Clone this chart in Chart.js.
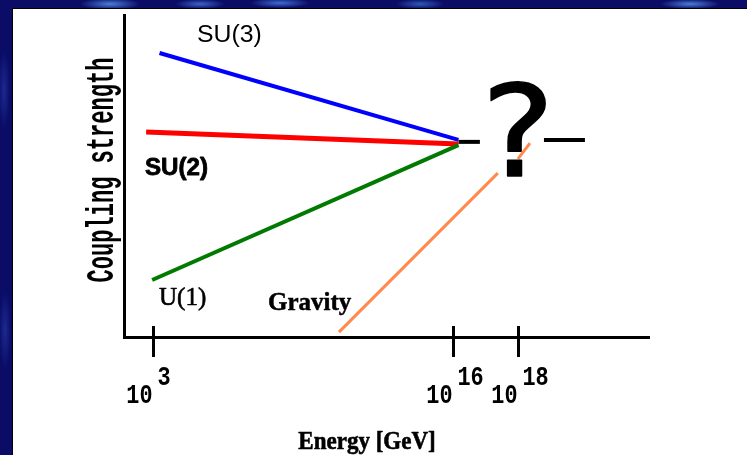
<!DOCTYPE html>
<html>
<head>
<meta charset="utf-8">
<script src="https://cdn.jsdelivr.net/npm/chart.js@4.4.1/dist/chart.umd.min.js"></script>
<style>
  html, body { margin: 0; padding: 0; }
  body {
    width: 747px; height: 455px; overflow: hidden; position: relative;
    background:
      radial-gradient(ellipse 30px 6px at 110px 4px, #4a7fd8, transparent),
      radial-gradient(ellipse 25px 5px at 200px 4px, #3a66c4, transparent),
      radial-gradient(ellipse 30px 5px at 280px 3px, #3d6fd0, transparent),
      radial-gradient(ellipse 25px 5px at 420px 4px, #2f5ab8, transparent),
      radial-gradient(ellipse 30px 5px at 690px 4px, #4a7fd8, transparent),
      radial-gradient(ellipse 6px 40px at 4px 90px, #1c2a90, transparent),
      radial-gradient(ellipse 6px 40px at 5px 330px, #1c2a90, transparent),
      #0a0c66;
  }
  .panel {
    position: absolute; left: 12px; top: 8px; right: 0; bottom: 0;
    background: #fff; border-top: 1px solid #000; border-left: 1px solid #000;
  }
  canvas { position: absolute; left: 0; top: 0; }
</style>
</head>
<body>
<div class="panel"></div>
<canvas id="chart" width="747" height="455"></canvas>
<script>
// --- data: x = log10(E / GeV), y = coupling strength (arbitrary units) ---
const energyTicks = [3, 16, 18];

const su3Energy = [3.28, 16.17];
const su3Coupling = [88.2, 61.2];

const su2Energy = [2.70, 16.17];
const su2Coupling = [63.7, 59.9];

const u1Energy = [2.96, 16.17];
const u1Coupling = [17.7, 59.6];

// gravity is broken where the question mark's dot sits
const gravityEnergy = [11.06, 17.38, 17.7, 18.0, 18.37];
const gravityCoupling = [1.5, 50.9, null, 55.3, 60.2];

const beyondEnergy = [16.17, 16.83];
const beyondCoupling = [60.6, 60.6];

const unknownEnergy = [18.8, 20.06];
const unknownCoupling = [61.2, 61.2];

const pts = (xs, ys) => xs.map((x, i) => ({ x: x, y: ys[i] }));

// energy axis is schematic: the decades above 10^16 are drawn wider
const KNEE = 16, STRETCH = 1.41;
class BentScale extends Chart.LinearScale {
    warp(v) { return v <= KNEE ? v : KNEE + (v - KNEE) * STRETCH; }
    unwarp(w) { return w <= KNEE ? w : KNEE + (w - KNEE) / STRETCH; }
    getPixelForValue(value) {
        const a = this.warp(this.min), b = this.warp(this.max);
        return this.getPixelForDecimal((this.warp(value) - a) / (b - a));
    }
    getValueForPixel(pixel) {
        const a = this.warp(this.min), b = this.warp(this.max);
        return this.unwarp(a + this.getDecimalForPixel(pixel) * (b - a));
    }
}
BentScale.id = 'bent';
BentScale.defaults = Chart.LinearScale.defaults;
Chart.register(BentScale);

function label(ctx, str, x, y, font, align, sx, stroke) {
    ctx.save();
    ctx.translate(x, y);
    ctx.scale(sx || 1, 1);
    ctx.font = font;
    ctx.textAlign = align || 'left';
    ctx.textBaseline = 'alphabetic';
    ctx.fillStyle = '#000';
    ctx.fillText(str, 0, 0);
    if (stroke) {
        ctx.strokeStyle = '#000';
        ctx.lineWidth = stroke;
        ctx.lineJoin = 'round';
        ctx.strokeText(str, 0, 0);
    }
    ctx.restore();
}

const decorations = {
    id: 'decorations',
    afterDraw(chart) {
        const ctx = chart.ctx;
        const xs = chart.scales.x;
        const bottom = chart.chartArea.bottom;

        // tick marks crossing the energy axis, with 10^n labels
        ctx.save();
        ctx.strokeStyle = '#000';
        ctx.lineWidth = 3;
        xs.ticks.forEach(t => {
            const px = Math.round(xs.getPixelForValue(t.value)) + 0.5;
            ctx.beginPath();
            ctx.moveTo(px, bottom - 11);
            ctx.lineTo(px, bottom + 20);
            ctx.stroke();
            label(ctx, '10', px - 1, 403, 'bold 28px "Liberation Mono"', 'right', 0.78);
            label(ctx, String(t.value), px + 4, 385, 'bold 28px "Liberation Mono"', 'left', 0.78);
        });
        ctx.restore();

        // axis titles
        label(ctx, 'Energy [GeV]', 367, 449, 'bold 25px "Liberation Serif"', 'center', 0.92, 0.6);
        ctx.save();
        ctx.translate(113, 170);
        ctx.rotate(-Math.PI / 2);
        label(ctx, 'Coupling strength', 0, 0, 'bold 38px "Liberation Mono"', 'center', 0.58);
        ctx.restore();

        // curve names
        label(ctx, 'SU(3)', 197, 42, '23px "Liberation Sans"', 'left', 1.08);
        label(ctx, 'SU(2)', 145, 175, 'bold 23px "Liberation Sans"', 'left', 1.05, 0.8);
        label(ctx, 'U(1)', 159, 305, '25px "Liberation Serif"', 'left', 1.0, 0.6);
        label(ctx, 'Gravity', 268, 310, 'bold 25px "Liberation Serif"', 'left', 1.0, 0.5);

        // the open question beyond unification
        label(ctx, '?', 518, 176, '126px "DejaVu Sans"', 'center', 1.1, 1.5);
    }
};

const line = (data, color, width) => ({
    data: data,
    showLine: true,
    borderColor: color,
    borderWidth: width,
    pointRadius: 0,
    tension: 0,
    borderCapStyle: 'butt',
    spanGaps: false
});

new Chart(document.getElementById('chart'), {
    type: 'scatter',
    data: {
        datasets: [
            line(pts(gravityEnergy, gravityCoupling), '#ff8a4c', 3),
            line(pts(u1Energy, u1Coupling), '#007a00', 4),
            line(pts(su2Energy, su2Coupling), '#ff0000', 5),
            line(pts(su3Energy, su3Coupling), '#0000ff', 4),
            line(pts(beyondEnergy, beyondCoupling), '#000000', 4),
            line(pts(unknownEnergy, unknownCoupling), '#000000', 4)
        ]
    },
    options: {
        responsive: false,
        animation: false,
        devicePixelRatio: 1,
        layout: { padding: { left: 124, top: 15, right: 98, bottom: 118 } },
        plugins: { legend: { display: false }, tooltip: { enabled: false } },
        scales: {
            x: {
                type: 'bent',
                min: 1.74,
                max: 22.03,
                afterBuildTicks: s => { s.ticks = energyTicks.map(v => ({ value: v })); },
                afterFit: s => { s.height = 0; },
                grid: { display: false },
                border: { display: true, color: '#000', width: 3 },
                ticks: { display: false }
            },
            y: {
                type: 'linear',
                min: 0,
                max: 100,
                afterFit: s => { s.width = 0; },
                grid: { display: false },
                border: { display: true, color: '#000', width: 3 },
                ticks: { display: false }
            }
        }
    },
    plugins: [decorations]
});
</script>
</body>
</html>
